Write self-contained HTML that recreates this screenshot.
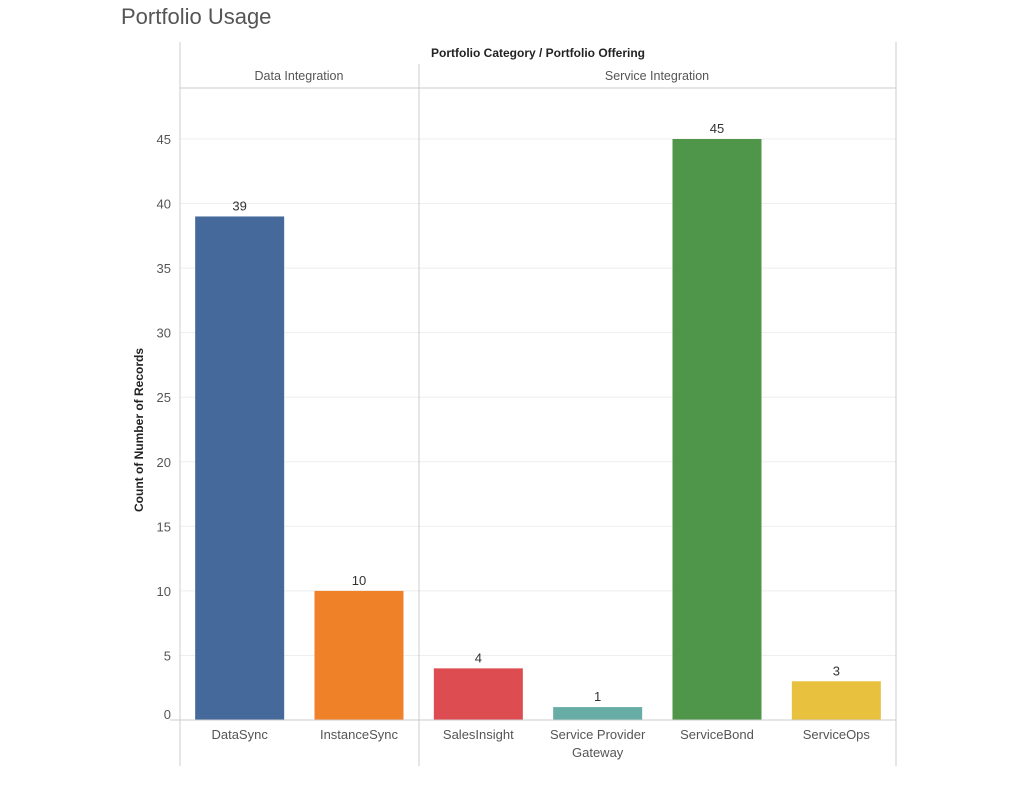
<!DOCTYPE html>
<html><head><meta charset="utf-8"><style>
body{margin:0;background:#fff;width:1024px;height:792px;overflow:hidden;font-family:"Liberation Sans",sans-serif}
</style></head><body>
<svg id="chart" width="1024" height="792" xmlns="http://www.w3.org/2000/svg" font-family="Liberation Sans, sans-serif">
<text x="121" y="24" font-size="22" fill="#555">Portfolio Usage</text>
<text x="538" y="57" font-size="12" font-weight="bold" text-anchor="middle" fill="#222">Portfolio Category / Portfolio Offering</text>
<text x="299" y="80" font-size="12.5" text-anchor="middle" fill="#555">Data Integration</text>
<text x="657" y="80" font-size="12.5" text-anchor="middle" fill="#555">Service Integration</text>
<text transform="translate(143,430) rotate(-90)" font-size="12" font-weight="bold" text-anchor="middle" fill="#222">Count of Number of Records</text>
<g id="grid"></g>
<line x1="180" y1="88" x2="896" y2="88" stroke="#ccc"/>
<line x1="180" y1="42" x2="180" y2="766" stroke="#ccc"/>
<line x1="419" y1="64" x2="419" y2="766" stroke="#ccc"/>
<line x1="896" y1="42" x2="896" y2="766" stroke="#ccc"/>
<g id="bars"></g>
<line x1="170" y1="720" x2="896" y2="720" stroke="#ccc"/>
</svg>
<script>
const categories=["DataSync","InstanceSync","SalesInsight","Service Provider|Gateway","ServiceBond","ServiceOps"];
const values=[39,10,4,1,45,3];
const colors=["#44699a","#ef8129","#dd4c51","#68aca6","#4f964a","#e8c13f"];
const yTicks=[0,5,10,15,20,25,30,35,40,45];
const NS="http://www.w3.org/2000/svg";
const x0=180,x1=896,yBase=720,yTop=139,yMax=45;
const bw=(x1-x0)/categories.length;
function y(v){return yBase-(v/yMax)*(yBase-yTop);}
function mk(tag,attrs,parent){const e=document.createElementNS(NS,tag);for(const k in attrs)e.setAttribute(k,attrs[k]);parent.appendChild(e);return e;}
const grid=document.getElementById('grid'),bars=document.getElementById('bars');
yTicks.forEach(t=>{
  if(t>0){const l=mk('line',{x1:x0,x2:x1,y1:y(t),y2:y(t),stroke:'#eee'},grid);
  
  }
  const tx=mk('text',{x:171,y:(t===0?y(t)-6:y(t))+5,'font-size':13,'text-anchor':'end',fill:'#555'},grid);
  tx.textContent=t;
  
  
});
categories.forEach((c,i)=>{
  const cx=x0+bw*(i+0.5);
  const r=mk('rect',{x:cx-44.5,y:y(values[i]),width:89,height:yBase-y(values[i]),fill:colors[i]},bars);
  
  
  const v=mk('text',{x:cx,y:y(values[i])-6,'font-size':13,'text-anchor':'middle',fill:'#333'},bars);
  v.textContent=values[i];
  
  
  c.split('|').forEach((part,j)=>{
    const t=mk('text',{x:cx,y:739+j*18,'font-size':13,'text-anchor':'middle',fill:'#555'},bars);
    t.textContent=part;
    
    
  });
});
</script>
</body></html>
